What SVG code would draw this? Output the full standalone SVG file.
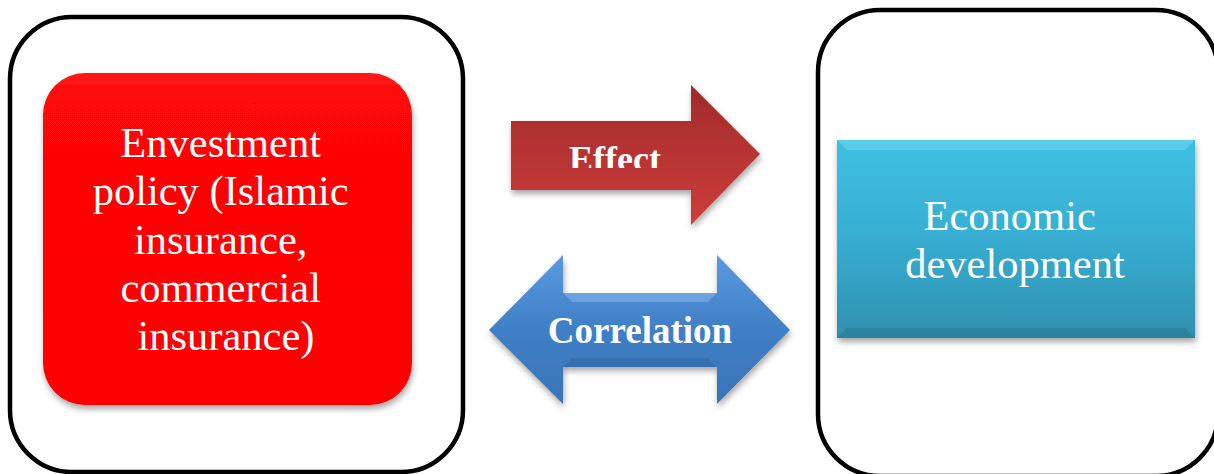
<svg xmlns="http://www.w3.org/2000/svg" width="1214" height="474" viewBox="0 0 1214 474">
  <style>
    .frame { fill: #ffffff; stroke: #000000; stroke-width: 4.5; }
    .label { font-family: "Liberation Serif", "Times New Roman", serif; fill: #ffffff; text-anchor: middle; }
    .big { font-size: 42.5px; }
    .bold { font-weight: bold; }
  </style>
  <defs>
    <linearGradient id="redFill" x1="0" y1="0" x2="0" y2="1">
      <stop offset="0" stop-color="#ff1a1a"/>
      <stop offset="0.08" stop-color="#ff0707"/>
      <stop offset="1" stop-color="#fc0202"/>
    </linearGradient>
    <linearGradient id="tealFill" x1="0" y1="0" x2="0" y2="1">
      <stop offset="0" stop-color="#3ec0e2"/>
      <stop offset="0.45" stop-color="#38b0d4"/>
      <stop offset="1" stop-color="#2f90b0"/>
    </linearGradient>
    <linearGradient id="effectFill" x1="0" y1="0" x2="0" y2="1">
      <stop offset="0" stop-color="#a22a2a"/>
      <stop offset="1" stop-color="#cc3d3b"/>
    </linearGradient>
    <linearGradient id="corrFill" x1="0" y1="0" x2="0" y2="1">
      <stop offset="0" stop-color="#5b9ae0"/>
      <stop offset="0.5" stop-color="#3f7fc6"/>
      <stop offset="1" stop-color="#3a74b6"/>
    </linearGradient>
    <filter id="shadow" x="-10%" y="-10%" width="125%" height="130%">
      <feGaussianBlur in="SourceAlpha" stdDeviation="3"/>
      <feOffset dx="1" dy="4" result="b"/>
      <feComponentTransfer><feFuncA type="linear" slope="0.35"/></feComponentTransfer>
      <feMerge><feMergeNode/><feMergeNode in="SourceGraphic"/></feMerge>
    </filter>
    <clipPath id="effectClip">
      <rect x="500" y="100" width="260" height="68"/>
    </clipPath>
  </defs>

  <!-- left container with the policy box -->
  <g id="policy">
    <rect class="frame" x="10" y="17" width="453" height="455" rx="62"/>
    <rect x="43" y="73" width="369" height="332" rx="42" fill="url(#redFill)" filter="url(#shadow)"/>
    <text class="label big">
      <tspan x="226" y="157">Envestment</tspan>
      <tspan x="226" y="205">policy (Islamic</tspan>
      <tspan x="226" y="254">insurance,</tspan>
      <tspan x="226" y="302">commercial</tspan>
      <tspan x="226" y="350">insurance)</tspan>
    </text>
  </g>

  <!-- right container with the outcome box -->
  <g id="development">
    <rect class="frame" x="818" y="10" width="400" height="466" rx="62"/>
    <rect x="837" y="140" width="358" height="198" fill="url(#tealFill)" filter="url(#shadow)"/>
    <path d="M837 140 L1195 140 L1185 150 L847 150 Z" fill="#6fd4f0" opacity="0.6"/>
    <path d="M837 338 L1195 338 L1185 328 L847 328 Z" fill="#25708a" opacity="0.45"/>
    <text class="label big">
      <tspan x="1015" y="230">Economic</tspan>
      <tspan x="1015" y="278">development</tspan>
    </text>
  </g>

  <!-- connectors between the two containers -->
  <g id="connectors">
    <g id="effect">
      <path d="M511 121 L691 121 L691 85 L760 154 L691 225 L691 190 L511 190 Z" fill="url(#effectFill)" filter="url(#shadow)"/>
      <text class="label bold" x="615" y="171" font-size="36" clip-path="url(#effectClip)">Effect</text>
    </g>
    <g id="correlation">
      <path d="M489 330 L563 255 L563 293 L717 293 L717 255 L790 330 L717 404 L717 367 L563 367 L563 404 Z" fill="url(#corrFill)" filter="url(#shadow)"/>
      <path d="M563 293 L717 293 L708 302 L572 302 Z" fill="#8dbcef" opacity="0.5"/>
      <path d="M563 367 L717 367 L708 358 L572 358 Z" fill="#2a5f9c" opacity="0.4"/>
      <text class="label bold" x="640" y="343" font-size="37">Correlation</text>
    </g>
  </g>
</svg>
